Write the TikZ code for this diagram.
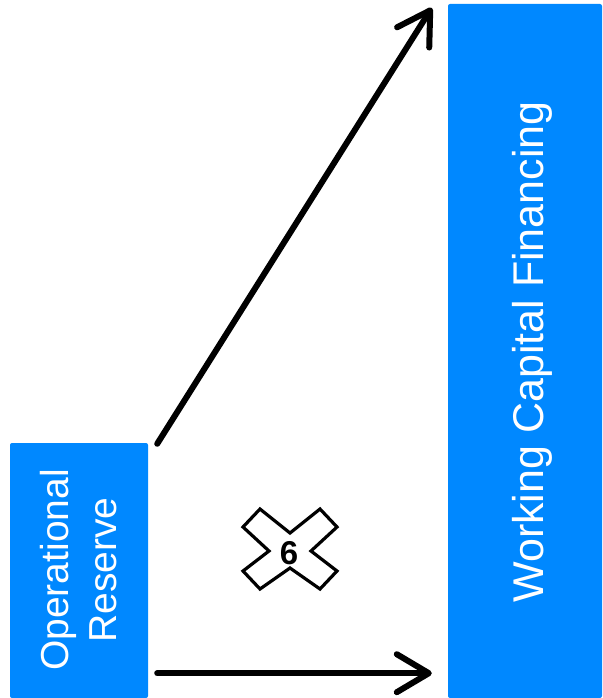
\documentclass[tikz,border=0pt]{standalone}
\usepackage{fontspec}
\setmainfont{Liberation Sans}
\usetikzlibrary{arrows.meta,calc}
\definecolor{fundblue}{RGB}{0,136,255}

\begin{document}
\begin{tikzpicture}[x=1pt, y=-1pt,
    fundbox/.style={rectangle, fill=fundblue, rounded corners=2pt, inner sep=0pt},
    fundlabel/.style={text=white, rotate=90, align=center, inner sep=0pt,
                      font=\fontsize{39}{48}\selectfont},
    flow/.style={line width=6pt, line cap=round,
                 -{Straight Barb[length=32pt, width=38pt, line cap=round, line join=round]}},
    cross/.style={draw, line width=3.2pt, line join=miter}]
  \useasboundingbox (0,0) rectangle (602,698);

  % the two blocks
  \node[fundbox, minimum width=138pt, minimum height=255pt] (reserve) at (79,570.5) {};
  \node[fundbox, minimum width=154pt, minimum height=694pt] (financing) at (525,351) {};
  \node[fundlabel] (reservelabel) at (79,570) {Operational\\Reserve};
  \node[fundlabel, font=\fontsize{43}{52}\selectfont] (financinglabel) at (532,352) {Working Capital Financing};

  % arrows
  \coordinate (upstart) at ($(reserve.north east)+(9,1)$);
  \coordinate (upend) at ($(financing.north west)+(-16,4)$);
  \coordinate (lowstart) at ($(reserve.south east)+(9,-25)$);
  \coordinate (lowend) at ($(financing.south west)+(-16,-25)$);
  \draw[flow] (upstart) -- (upend);
  \draw[flow] (lowstart) -- (lowend);

  % crossed marker
  \node[font=\fontsize{33}{33}\selectfont\bfseries, inner sep=0pt] (six) at (289,553) {6};
  \draw[cross, shift={(290,549)}]
    (-30,-40) -- (0,-16) -- (30,-40) -- (47,-22) -- (21,2) -- (47,22) -- (30,40)
    -- (0,19) -- (-30,40) -- (-47,22) -- (-21,2) -- (-47,-22) -- cycle;
\end{tikzpicture}
\end{document}
